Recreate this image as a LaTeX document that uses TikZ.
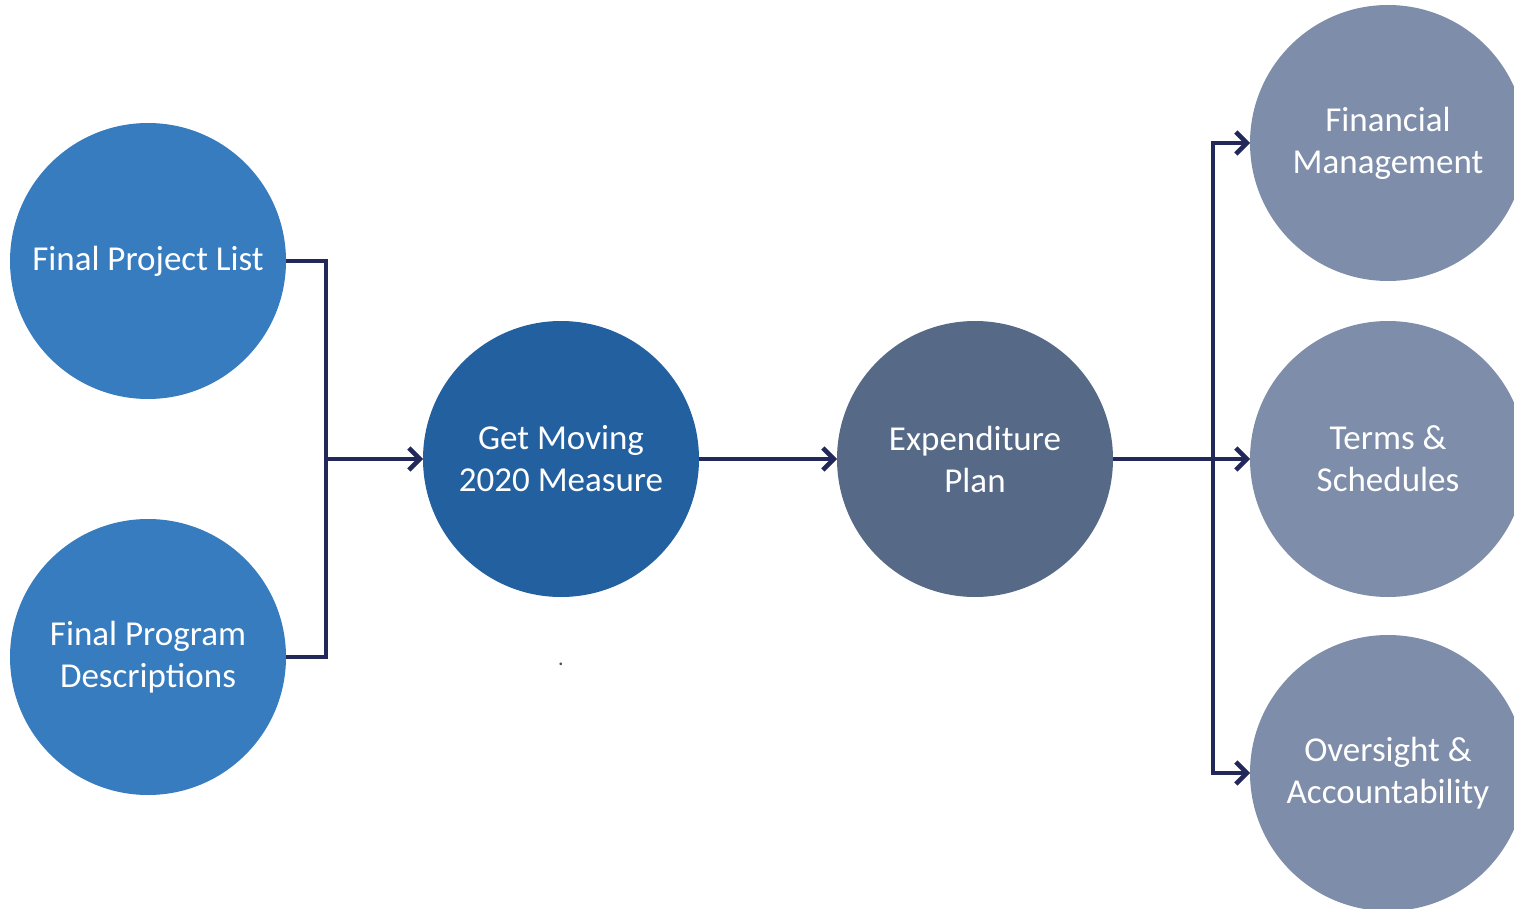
\documentclass[tikz,border=0pt]{standalone}
\usepackage{fontspec}
\setmainfont{Carlito}
\usetikzlibrary{positioning, arrows.meta}
\definecolor{leftblue}{HTML}{377CBF}
\definecolor{measureblue}{HTML}{2360A0}
\definecolor{planslate}{HTML}{566A87}
\definecolor{partgrey}{HTML}{7E8DAA}
\definecolor{linknavy}{HTML}{23285A}
\tikzset{
  every node/.style={text=white, font=\fontsize{35}{42}\selectfont, align=center},
  bubble/.style={circle, minimum size=276pt, inner sep=0pt, outer sep=0pt},
  link/.style={draw=linknavy, line width=4.5pt},
  linkarrow/.style={link, -{Straight Barb[length=11pt, width=22pt, line width=4.5pt]}}
}

\begin{document}
\begin{tikzpicture}[x=1pt, y=-1pt]
  \useasboundingbox (0,0) rectangle (1514,909);
  % Nodes
  \node (projects) [bubble, fill=leftblue] at (148,261) {Final Project List};
  \node (programs) [bubble, fill=leftblue, below=120pt of projects] {Final Program\\Descriptions};
  \node (measure) [bubble, fill=measureblue] at (561,459) {Get Moving\\2020 Measure};
  \node (plan) [bubble, fill=planslate, right=138pt of measure] {Expenditure\\Plan};
  \node (terms) [bubble, fill=partgrey, right=137pt of plan] {Terms \&\\Schedules};
  \node (finance) [bubble, fill=partgrey, above=40pt of terms] {Financial\\Management};
  \node (oversight) [bubble, fill=partgrey, below=38pt of terms] {Oversight \&\\Accountability};
  \node (dot) [text=black!70, font=\fontsize{22}{22}\selectfont] at (561,664) {.};

  \coordinate (joinleft) at (326,459);
  \coordinate (joinright) at (1213,459);

  \draw[link] (projects.east) -| (joinleft);
  \draw[link] (programs.east) -| (joinleft);
  \draw[linkarrow] (joinleft) -- (measure.west);
  \draw[linkarrow] (measure.east) -- (plan.west);
  \draw[linkarrow] (plan.east) -- (terms.west);
  \draw[linkarrow] (joinright) |- (finance.west);
  \draw[linkarrow] (joinright) |- (oversight.west);
\end{tikzpicture}
\end{document}
